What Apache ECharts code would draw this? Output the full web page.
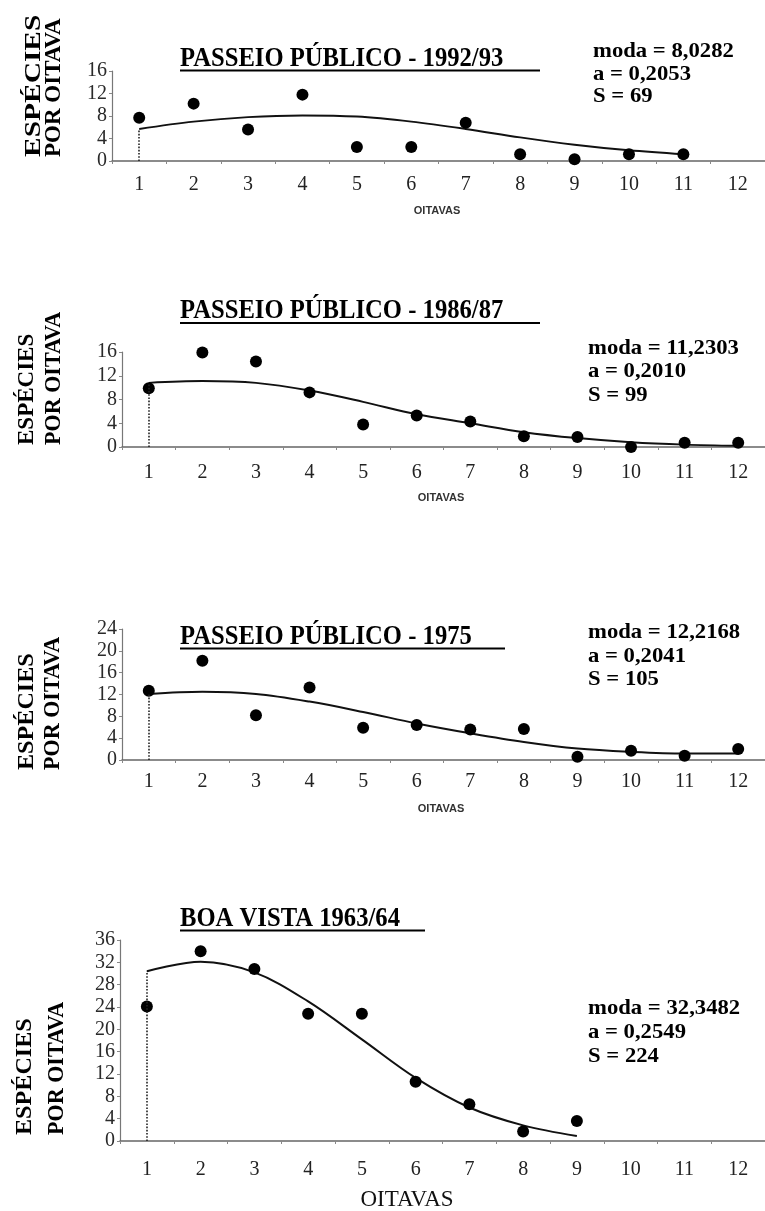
<!DOCTYPE html>
<html>
<head>
<meta charset="utf-8">
<script src="https://cdn.jsdelivr.net/npm/echarts@6/dist/echarts.min.js"></script>
<style>
html,body{margin:0;padding:0;background:#fff;}
#c{width:765px;height:1211px;}
</style>
</head>
<body>
<div id="c"></div>
<script>
// ---- data ----
const octaves = ['1','2','3','4','5','6','7','8','9','10','11','12'];
const titles = ['PASSEIO PÚBLICO - 1992/93', 'PASSEIO PÚBLICO - 1986/87', 'PASSEIO PÚBLICO - 1975', 'BOA VISTA 1963/64'];
const statsModa = ['moda = 8,0282', 'moda = 11,2303', 'moda = 12,2168', 'moda = 32,3482'];
const statsA = ['a = 0,2053', 'a = 0,2010', 'a = 0,2041', 'a = 0,2549'];
const statsS = ['S = 69', 'S = 99', 'S = 105', 'S = 224'];
const yMax = [16, 16, 24, 36];
const yInterval = 4;
const xName = 'OITAVAS';
const yName1 = 'ESPÉCIES';
const yName2 = 'POR OITAVA';

const pts1992 = [7.7, 10.2, 5.6, 11.8, 2.5, 2.5, 6.8, 1.2, 0.3, 1.2, 1.2, null];
const fit1992 = [5.7, 7.0, 7.8, 8.1, 7.9, 7.0, 5.7, 4.2, 2.9, 1.9, 1.2, null];
const pts1986 = [9.9, 15.9, 14.4, 9.2, 3.8, 5.3, 4.3, 1.8, 1.7, 0.0, 0.7, 0.7];
const fit1986 = [10.8, 11.1, 10.8, 9.5, 7.6, 5.5, 4.0, 2.5, 1.5, 0.8, 0.4, 0.2];
const pts1975 = [12.7, 18.2, 8.2, 13.3, 5.9, 6.4, 5.6, 5.7, 0.6, 1.7, 0.8, 2.0];
const fit1975 = [12.1, 12.5, 12.1, 10.7, 8.8, 6.7, 4.9, 3.3, 2.1, 1.5, 1.2, 1.2];
const ptsBoa = [24.1, 34.0, 30.8, 22.8, 22.8, 10.6, 6.6, 1.7, 3.6];
const fitBoa = [30.4, 32.1, 30.2, 25.0, 18.2, 11.3, 6.0, 2.8, 0.9];

const pointSets = [pts1992, pts1986, pts1975, ptsBoa];
const fitSets = [fit1992, fit1986, fit1975, fitBoa];

// ---- layout ----
const grids = [
  {left: 112, right: 0, top: 71, height: 90},
  {left: 122, right: 0, top: 352, height: 95},
  {left: 122, right: 0, top: 629, height: 131},
  {left: 120, right: 0, top: 940, height: 201}
];
const xLabelMargin = [14, 16, 12, 19];
const titleY = [58.5, 311, 636.5, 918.5];
const titleUnderEnd = [540, 540, 505, 425];
const statsX = [593, 588, 588, 588];
const statsY = [[52, 75, 97], [349, 372, 396], [633, 657, 680], [1009, 1033, 1057]];
const yNameX = [[34, 54], [27, 54], [27, 53], [25, 57]];
const yNameBottom = [157, 445, 770, 1135];
const xNamePos = [[437, 211], [441, 498], [441, 809], [407, 1200]];

const serif = "'Liberation Serif', 'DejaVu Serif', serif";
const sans = "'Liberation Sans', Arial, sans-serif";

const xAxes = [], yAxes = [], series = [], graphics = [];
for (let i = 0; i < 4; i++) {
  xAxes.push({
    gridIndex: i, type: 'category', data: octaves, boundaryGap: true,
    axisLine: {show: true, lineStyle: {color: '#666', width: 1.5}},
    axisTick: {show: true, length: 3, lineStyle: {color: '#888'}},
    axisLabel: {fontFamily: serif, fontSize: 20, color: '#222', margin: xLabelMargin[i]},
    splitLine: {show: false}
  });
  yAxes.push({
    gridIndex: i, type: 'value', min: 0, max: yMax[i], interval: yInterval,
    axisLine: {show: true, lineStyle: {color: '#777', width: 1.2}},
    axisTick: {show: true, length: 3, lineStyle: {color: '#888'}},
    axisLabel: {fontFamily: serif, fontSize: 20, color: '#2a2a2a', margin: 5},
    splitLine: {show: false}
  });
  const fit = fitSets[i];
  series.push({
    type: 'line', xAxisIndex: i, yAxisIndex: i, data: fit, smooth: 0.35,
    showSymbol: false, symbol: 'none', connectNulls: false,
    lineStyle: {color: '#111', width: 2},
    markLine: {
      silent: true, symbol: ['none', 'none'], label: {show: false},
      lineStyle: {color: '#222', type: 'dotted', width: 1.6},
      data: [[{coord: [octaves[0], 0]}, {coord: [octaves[0], fit[0]]}]]
    },
    z: 2
  });
  series.push({
    type: 'scatter', xAxisIndex: i, yAxisIndex: i, data: pointSets[i],
    symbol: 'circle', symbolSize: 12, itemStyle: {color: '#000', opacity: 1}, z: 3
  });

  // title + underline
  graphics.push({
    type: 'text', x: 180, y: titleY[i], scaleX: 0.88,
    style: {text: titles[i], font: "bold 28px " + serif, fill: '#000', align: 'left', verticalAlign: 'middle'}
  });
  graphics.push({
    type: 'line', shape: {x1: 180, y1: titleY[i] + 12, x2: titleUnderEnd[i], y2: titleY[i] + 12},
    style: {stroke: '#000', lineWidth: 2}
  });
  // stats
  [statsModa[i], statsA[i], statsS[i]].forEach((t, k) => {
    graphics.push({
      type: 'text', x: statsX[i], y: statsY[i][k], scaleX: 1.08,
      style: {text: t, font: "bold 21px " + serif, fill: '#000', align: 'left', verticalAlign: 'middle'}
    });
  });
  // y names (rotated)
  graphics.push({
    type: 'text', x: yNameX[i][0], y: yNameBottom[i], rotation: Math.PI / 2,
    scaleX: i === 0 ? 1.28 : (i === 1 ? 1.0 : 1.05),
    style: {text: yName1, font: "bold 23px " + serif, fill: '#000', align: 'left', verticalAlign: 'middle'}
  });
  graphics.push({
    type: 'text', x: yNameX[i][1], y: yNameBottom[i], rotation: Math.PI / 2,
    scaleX: i === 0 ? 1.0 : 0.96,
    style: {text: yName2, font: "bold 23px " + serif, fill: '#000', align: 'left', verticalAlign: 'middle'}
  });
  // x name
  graphics.push({
    type: 'text', x: xNamePos[i][0], y: xNamePos[i][1],
    style: {
      text: xName,
      font: i === 3 ? ("23px " + serif) : ("bold 11px " + sans),
      fill: i === 3 ? '#111' : '#333', align: 'center', verticalAlign: 'middle'
    }
  });
}

const chart = echarts.init(document.getElementById('c'), null, {renderer: 'canvas'});
chart.setOption({
  backgroundColor: '#fff',
  animation: false,
  grid: grids,
  xAxis: xAxes,
  yAxis: yAxes,
  series: series,
  graphic: graphics
});
</script>
</body>
</html>
